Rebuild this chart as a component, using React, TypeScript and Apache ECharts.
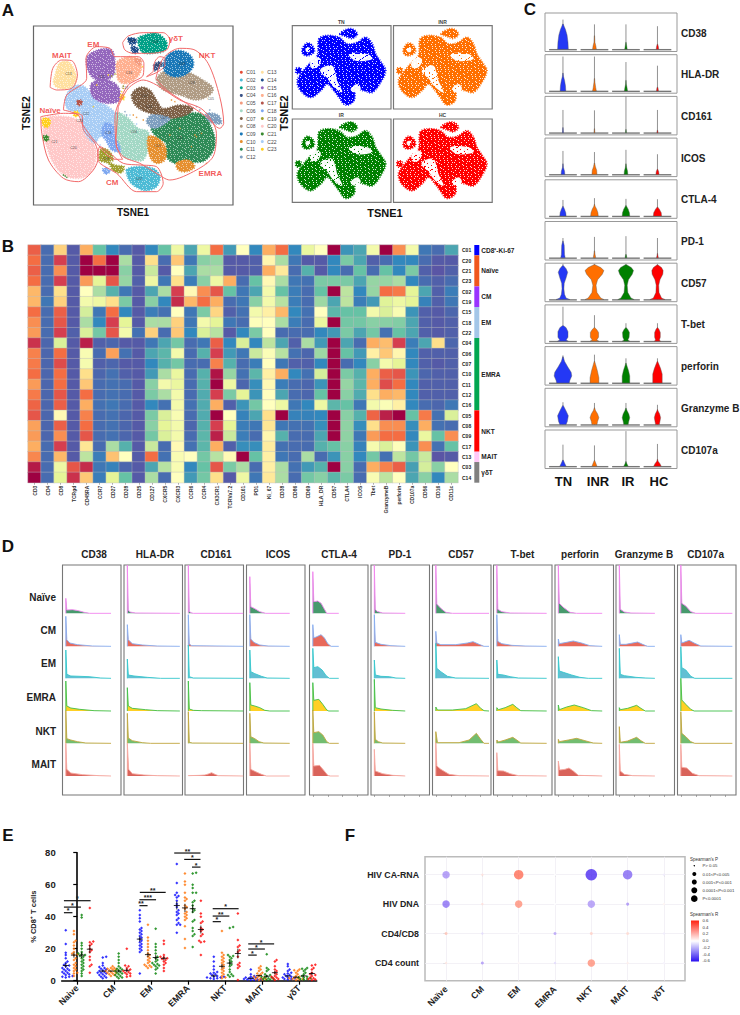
import React, { useEffect, useRef } from "react";
import * as echarts from "echarts";

const FONT = "Liberation Sans";

// ---------- Panel A ----------
const clusterNames = ["C01","C02","C03","C04","C05","C06","C07","C08","C09","C10","C11","C12","C13","C14","C15","C16","C17","C18","C19","C20","C21","C22","C23"];
const clusterColors = ["#e64b35","#4dbbd5","#00a087","#3c5488","#f39b7f","#a3d8c5","#7e6148","#b09c85","#1a78b8","#e69030","#2e8b57","#7f9fbf","#ffe0a0","#1f4e8c","#9467bd","#ffb090","#b5544a","#7fa8f0","#a0a030","#ffc8c8","#3a8a30","#a8cdf5","#ffd020"];
// outline of each cluster's cloud on the tSNE plane
const clusterRegions: Record<string, number[][][]> = {
  C20: [[[135,355],[200,350],[240,365],[250,395],[285,440],[285,490],[265,525],[230,535],[190,525],[160,490],[140,440],[130,400]]],
  C22: [[[195,300],[215,262],[250,258],[290,300],[325,320],[345,340],[345,370],[320,370],[330,420],[300,410],[285,430],[255,400],[242,350],[235,335],[205,330]]],
  C06: [[[350,340],[380,350],[415,385],[445,395],[445,440],[430,480],[400,480],[365,465],[350,420]]],
  C11: [[[455,385],[510,360],[560,340],[610,345],[640,395],[645,440],[615,482],[570,487],[525,490],[500,470],[498,430],[470,410]]],
  C08: [[[470,240],[490,215],[520,215],[560,215],[610,240],[640,265],[630,285],[590,300],[540,285],[490,270]]],
  C07: [[[395,285],[420,262],[450,270],[470,300],[490,325],[540,315],[580,325],[560,345],[500,355],[450,340],[410,320]]],
  C12: [[[455,345],[510,355],[490,375],[460,385],[440,365]],[[620,340],[655,345],[665,370],[640,370],[620,355]]],
  C10: [[[445,410],[475,415],[498,445],[495,480],[470,490],[450,470]],[[530,490],[565,480],[585,500],[560,515],[535,510]]],
  C18: [[[315,370],[340,375],[345,410],[360,440],[360,455],[335,450],[320,425],[305,400]],[[308,507],[322,505],[330,515],[316,522]]],
  C15: [[[262,170],[300,148],[335,150],[345,185],[340,225],[310,245],[280,235],[262,205]],[[275,250],[320,240],[355,260],[358,300],[335,310],[300,305],[275,285]]],
  C13: [[[165,225],[178,190],[205,185],[225,215],[228,245],[205,265],[170,262],[160,245]]],
  C16: [[[352,185],[385,170],[415,178],[425,200],[415,228],[385,250],[358,245],[350,215]]],
  C19: [[[298,465],[305,445],[330,455],[340,480],[330,485],[345,495],[372,500],[365,518],[340,512],[325,490],[300,482]]],
  C02: [[[380,510],[410,500],[460,505],[480,530],[470,560],[440,572],[415,565],[390,545]]],
  C09: [[[490,190],[510,160],[545,152],[575,170],[580,200],[555,225],[520,230],[495,215]]],
  C03: [[[415,115],[435,105],[470,100],[500,125],[497,150],[460,160],[425,155]]],
  C14: [[[385,115],[408,117],[408,130],[390,132]],[[395,138],[413,145],[413,158],[398,158]]],
  C04: [[[462,195],[478,185],[488,190],[478,205],[465,212]]],
  C05: [[[405,175],[425,180],[420,195],[408,190]]],
  C17: [[[232,302],[245,302],[243,315],[233,315]]],
  C21: [[[130,408],[143,408],[145,420],[132,422]]],
  C23: [[[128,355],[148,358],[150,372],[142,382],[130,378],[125,365]],[[222,335],[234,335],[234,348],[222,348]],[[362,285],[372,285],[372,298],[362,298]]],
};
const clusterStrays: Record<string, number[][]> = {
  C10: [[400,345],[410,352],[515,300],[525,305],[590,410],[585,405],[510,405],[620,490],[430,360],[540,385],[575,440],[605,400]],
  C23: [[325,225],[280,320],[370,265],[365,275],[290,255],[428,200]],
  C19: [[335,228],[345,222],[370,258]],
  C12: [[350,340],[630,330],[600,330],[590,320],[380,345],[375,335]],
  C22: [[410,372],[390,345],[300,435],[320,510]],
  C21: [[195,528],[200,532],[190,525]],
};
const clusterTags: [string, number, number][] = [["C13",205,222],["C15",305,232],["C16",387,220],["C09",547,193],["C08",575,250],["C07",433,287],["C06",402,395],["C05",633,297],["C10",473,437],["C11",540,413],["C12",490,353],["C20",220,445],["C21",163,427],["C22",258,343],["C18",325,400],["C02",418,538],["C19",318,478],["C17",375,263],["C03",465,127],["C14",397,122],["C04",478,194],["C01",447,322],["C23",238,362]];
const gateOutlines: number[][][] = [
  [[150,262],[158,205],[185,180],[215,182],[232,225],[215,265],[170,270],[150,262]],
  [[190,330],[200,285],[260,235],[258,175],[290,140],[330,145],[345,170],[415,170],[432,190],[430,225],[385,255],[360,300],[345,350],[350,440],[368,478],[345,478],[290,430],[245,370],[235,345],[190,330]],
  [[368,128],[385,108],[430,98],[490,98],[510,120],[500,150],[450,160],[400,160],[375,150],[368,128]],
  [[460,215],[465,185],[480,170],[495,175],[495,195],[475,215],[440,230],[460,215]],
  [[468,235],[490,175],[540,145],[580,148],[625,190],[660,290],[672,370],[660,385],[620,350],[560,310],[500,270],[468,235]],
  [[355,320],[385,265],[430,240],[470,255],[540,300],[610,330],[650,400],[640,470],[590,510],[510,540],[470,520],[420,490],[370,470],[348,430],[355,320]],
  [[292,470],[300,440],[330,460],[370,490],[420,495],[470,500],[490,550],[470,575],[410,575],[350,520],[300,490],[292,470]],
  [[122,350],[190,340],[245,345],[250,390],[285,430],[295,470],[280,510],[235,545],[190,535],[145,480],[125,400],[122,350]],
];
const gateNames: [string, number, number][] = [["MAIT",185,167],["EM",280,132],["γδT",528,115],["NKT",622,167],["Naïve",150,330],["EMRA",632,520],["CM",337,548]];
const cohortRegions = [
  [[143,25],[160,12],[180,10],[195,25],[180,38],[160,32]],
  [[30,70],[45,52],[62,62],[65,80],[45,90],[32,85]],
  [[12,128],[25,128],[25,142],[12,142]],
  [[80,40],[100,30],[140,35],[165,55],[195,50],[220,35],[240,55],[250,85],[270,115],[280,135],[265,170],[240,200],[215,195],[190,190],[185,225],[160,238],[140,215],[125,195],[105,175],[85,195],[55,215],[25,195],[15,165],[30,140],[55,110],[75,90]],
];
const cohortGaps = [
  [[100,145],[125,135],[135,165],[150,200],[125,185],[110,165]],
  [[60,95],[85,100],[75,125],[55,125]],
  [[170,85],[225,85],[240,100],[190,105]],
  [[40,68],[52,66],[52,78],[42,78]],
  [[175,190],[195,175],[205,190],[185,200]],
  [[85,130],[120,120],[125,150],[95,150]],
];
const cohorts = ["TN","INR","IR","HC"];
const cohortColors = ["#0000ff","#ff6f00","#008000","#ff0000"];

// ---------- Panel B ----------
const heatCols = ["CD3","CD4","CD8","TCRgd","CD45RA","CCR7","CD27","CD28","CD25","CD127","CXCR5","CXCR3","CCR6","CCR4","CX3CR1","TCRVa7.2","CD161","PD1","Ki_67","CD38","CD86","CD69","HLA_DR","CD57","CTLA4","ICOS","Tbet","GranzymeB","perforin","CD107a","CD56","CD16","CD11c"];
const heatRows = ["C01","C20","C21","C23","C02","C19","C15","C18","C22","C04","C06","C07","C10","C11","C12","C16","C05","C08","C09","C17","C13","C03","C14"];
const heatValues = [
  [8.3,.5,6.3,.2,7,2,1,.5,.2,1,2,4.3,1.5,4.3,8,1.3,5,1,7,8,1,4.2,5,10,1.2,1.5,4.5,10,7.5,4.5,.7,.5,1.5],
  [8,.5,9,.2,10,8,10,3,.2,6,.5,6.5,.7,2.5,2.7,.2,.2,.3,5.3,3,.7,.2,.2,1,2.3,1.5,.3,.5,1,1,.5,.2,.2],
  [8.3,.5,7.5,.2,10,10,10,2.5,.2,3.5,.2,5,1.5,3,3,.2,.2,.3,7,5.7,.5,1.7,.2,1,.5,2,.5,2,1,2.3,.3,.1,.3],
  [8,.5,9,.2,7.3,4,8.5,2.7,.3,4.3,.7,6,.8,2.5,4.3,7,.5,2,5.2,3,.7,.6,2.3,2.3,2.3,1.5,2.7,2.7,3,1,.5,.3,.5],
  [6.8,.5,6,.2,5,3,1.7,.7,.2,1.5,3,9,5.2,7.5,8.5,2,.7,1.5,4.5,2,.8,.5,2,10,3.3,1,2.7,8,7.8,4,1.5,.3,.8],
  [6.8,.7,6.3,.2,4.5,4.3,6,2.3,.2,2.5,1,9.3,6.8,8,7,.5,.7,2.5,4.5,3.2,.8,.5,2.8,1.5,3.3,.8,1.3,3.9,4.3,4,.9,.3,.7],
  [8,.5,8.3,.2,3.7,.7,8,1,.2,.8,.6,5,.7,2.3,6.2,.3,.6,4.5,5.5,6.8,1,.6,5,1.8,2,2,4.5,3.8,4.7,1.2,.3,.2,.4],
  [7.5,.5,8.5,.2,3,1,9,4,.2,3,3,6.3,.7,4.5,4,.7,.5,4.9,5,3,.8,.5,4.2,10,2.2,2.2,2.5,2.5,2.4,1.5,.3,.2,.3],
  [7.3,.5,9,.3,3.8,2.2,8.5,4.5,.6,6.3,.5,6.5,1,3.8,3.2,.2,1,2.3,5,.5,.5,.5,1,1.3,2.3,1.5,2.2,.6,2,1.5,.3,.2,.3],
  [9.2,.4,3.8,.2,9.5,.3,.4,.2,.2,.7,1.5,2.2,.5,.7,8.3,1,3.8,1,3.3,1.5,.3,3,1.3,10,1.5,.5,7,6.7,9,.8,1.5,6,.4],
  [7.7,.4,8,.2,4.7,.5,7.2,.6,.2,1.5,1.8,4.5,.5,1.7,9,1.3,.7,3.5,4.8,3.2,.6,.4,2.8,10,2,1.3,5.5,6.5,5.3,1,.3,.3,.3],
  [7.8,.4,8.7,.2,4.6,.3,.4,.2,.2,1,1.7,2.2,.5,.5,7.7,1.7,.5,.8,5,.7,.3,.3,1,10,.5,1,2.5,4.5,4,1,.3,.2,.3],
  [8,.4,8,.2,6,.4,.6,.3,.2,1.3,3,4.2,.5,1.7,9.7,2.7,.6,1.8,5.5,7,1,.6,3.7,10,2.3,1.7,7,8.3,8.5,1.2,.4,.3,.3],
  [7.3,.4,8,.2,6.5,.5,.6,.5,.2,2.5,4.5,4.2,.5,1.7,10,4.3,.4,1.1,5.2,.8,.5,.4,1.2,10,2.7,1.8,7,8.7,8,1,.3,.3,.3],
  [7.8,.4,8.5,.2,8,.5,.6,.5,.2,2.3,3,4.5,.5,1.6,9,2.3,4,1.2,5,1.5,.5,.4,2,10,2.5,1.6,6,7,6.8,1,.3,.3,.3],
  [8.2,.4,8.3,.2,7,.6,.7,.5,.2,1,.6,4.5,.6,1.6,7,.3,1.2,2.2,5,4.3,.7,1,4.3,1.8,2,.7,4.5,4.8,5.5,1,.5,.4,.7],
  [8.5,.4,5.2,.2,7.7,.5,.6,.4,.2,2.3,3.8,4.7,.5,1.6,10,5,.9,1.5,6,10,.9,.9,1,10,2.5,1.7,8.2,9.5,10,2,7.8,.6,3.8],
  [7.2,.4,8.3,.2,8,.5,.6,.4,.2,2.5,4,4.5,.4,1.7,9,4,.8,.7,5.8,.7,.6,.6,1.1,10,2.6,1.1,6,7.5,7.5,1.1,7,.6,.5],
  [7.3,.4,7.5,.2,8.5,.5,.6,.4,.2,2.2,3.8,4.5,.5,1.8,9.5,3.5,.8,.5,5.3,1.7,.5,.5,1.5,10,2.6,.7,7.3,8,8,1,4.2,2,7.5],
  [7,.5,9,.2,5.8,.5,3,1.7,.2,3.5,.5,5.2,.6,1.8,7,.3,1.1,1.1,5.6,.6,.5,.5,1.7,2,2.5,.9,4.6,3.8,4.9,1.2,7.5,.6,2],
  [7.6,.5,6.8,.2,3.3,.8,6.6,5,.2,8,.6,4.7,5,2.2,3.2,5.2,10,2,5.5,.7,.5,3,.5,1.2,2.5,1,2.2,.6,3.3,2.2,3.5,.1,.2],
  [9.6,.5,4.3,8.5,9.3,.7,.9,.4,.2,1.5,3.2,4.7,1,2,8.5,2.3,3,.5,5.5,3,.6,1.3,1.7,10,2.5,.5,7,7.7,8.3,1.4,3.7,2.5,5],
  [10,.5,4,9.2,6.5,.8,4,2,.2,3,.5,5,1.3,2.2,6,.2,4.3,.7,5.7,3,.5,2.2,2.5,1.8,2.3,.5,4.7,3.3,5,1.5,2.5,1,3],
];
const heatGroups = ["CD8⁺-Ki-67","Naïve","CM","EM","EMRA","NKT","MAIT","γδT"];
const heatGroupSizes = [1,3,2,3,7,4,1,2];
const heatGroupColors = ["#0000ff","#f0561e","#9933ff","#a3c6e8","#00a651","#ff0000","#ffc8f8","#808080"];
const spectral = ["#5e4fa2","#3288bd","#66c2a5","#abdda4","#e6f598","#ffffbf","#fee08b","#fdae61","#f46d43","#d53e4f","#9e0142"];

// ---------- Panel C ----------
const markers = ["CD38","HLA-DR","CD161","ICOS","CTLA-4","PD-1","CD57","T-bet","perforin","Granzyme B","CD107a"];
const violinTails = [[.82,.69,.69,.64],[.95,.95,.8,.7],[.63,.62,1,.63],[.65,.62,.68,.56],[.45,.5,.48,.47],[.55,.58,.6,.55],[.98,.98,.98,.98],[.95,.72,.5,.5],[.76,.78,.68,.68],[.62,.6,.6,.55],[.6,.58,.97,.62]];
const violinBodies: number[][][][] = [
  [[[.01,.17],[.2,.16],[.4,.13],[.55,.08],[.65,.03],[.7,.012]],[[.01,.06],[.1,.045],[.2,.015],[.38,.005]],[[.01,.04],[.12,.02],[.2,.006]],[[.01,.04],[.08,.03],[.15,.008]]],
  [[[.01,.09],[.15,.08],[.3,.05],[.4,.02],[.5,.005]],[[.01,.06],[.1,.04],[.25,.015],[.35,.005]],[[.01,.05],[.1,.035],[.2,.01],[.3,.004]],[[.01,.03],[.08,.02],[.12,.005]]],
  [[[.01,.015],[.15,.005]],[[.01,.015],[.12,.005]],[[.01,.015],[.1,.005]],[[.01,.02],[.08,.006]]],
  [[[.01,.06],[.1,.05],[.2,.015],[.3,.005]],[[.01,.08],[.12,.07],[.22,.03],[.32,.005]],[[.01,.06],[.1,.05],[.2,.02],[.3,.005]],[[.01,.05],[.08,.04],[.15,.01]]],
  [[[.01,.1],[.1,.09],[.2,.05],[.28,.005]],[[.01,.12],[.1,.11],[.2,.07],[.28,.02],[.33,.005]],[[.01,.12],[.1,.11],[.2,.07],[.3,.005]],[[.01,.13],[.1,.12],[.2,.06],[.26,.005]]],
  [[[.01,.07],[.1,.05],[.35,.04],[.47,.005]],[[.01,.04],[.1,.02],[.2,.005]],[[.01,.03],[.1,.01]],[[.01,.03],[.08,.012],[.13,.004]]],
  [[[.01,.22],[.05,.1],[.15,.05],[.3,.03],[.45,.04],[.6,.1],[.75,.15],[.85,.1],[.93,.02]],[[.01,.3],[.05,.2],[.2,.08],[.4,.05],[.55,.1],[.7,.25],[.8,.3],[.88,.2],[.96,.02]],[[.01,.26],[.05,.16],[.2,.06],[.4,.04],[.55,.08],[.7,.2],[.8,.24],[.88,.17],[.96,.02]],[[.01,.24],[.05,.13],[.2,.05],[.4,.04],[.55,.08],[.7,.17],[.8,.18],[.88,.13],[.95,.02]]],
  [[[.01,.17],[.04,.1],[.12,.16],[.27,.16],[.38,.1],[.43,.02]],[[.01,.14],[.04,.07],[.12,.13],[.25,.13],[.33,.07],[.38,.01]],[[.01,.12],[.04,.06],[.12,.1],[.25,.11],[.33,.06],[.38,.01]],[[.01,.1],[.04,.06],[.12,.09],[.25,.09],[.33,.05],[.38,.01]]],
  [[[.01,.2],[.08,.22],[.2,.28],[.3,.26],[.45,.15],[.6,.05],[.72,.01]],[[.01,.14],[.15,.14],[.35,.09],[.5,.04],[.6,.006]],[[.01,.12],[.2,.12],[.35,.08],[.48,.03],[.55,.005]],[[.01,.15],[.25,.15],[.4,.1],[.55,.03],[.6,.005]]],
  [[[.01,.1],[.1,.14],[.25,.17],[.38,.1],[.5,.03],[.53,.005]],[[.01,.08],[.1,.1],[.2,.14],[.3,.1],[.4,.03],[.47,.005]],[[.01,.07],[.1,.09],[.2,.12],[.3,.09],[.4,.03],[.46,.005]],[[.01,.06],[.1,.08],[.2,.1],[.3,.07],[.38,.02],[.42,.005]]],
  [[[.01,.1],[.1,.05],[.18,.01]],[[.01,.08],[.1,.04],[.17,.008]],[[.01,.07],[.08,.03],[.14,.005]],[[.01,.12],[.08,.08],[.15,.02],[.2,.005]]],
];

// ---------- Panel D ----------
const memorySets = ["Naïve","CM","EM","EMRA","NKT","MAIT"];
const ridgeBaselines = [5.45,4.46,3.5,2.52,1.55,.57];
const ridgeDensity: number[][][][] = [
  [[[0,.45],[3,.1],[20,.11],[38,.08],[55,.03],[72,0],[136,0]],[[0,.9],[3,.2],[12,.1],[35,.05],[80,.01],[136,0]],[[0,.85],[3,.12],[15,.07],[70,.05],[105,.01],[136,0]],[[0,.9],[3,.15],[15,.09],[42,.05],[85,.01],[136,0]],[[0,.98],[3,.14],[15,.1],[35,.05],[60,.01],[136,0]],[[0,.98],[3,.2],[15,.09],[50,.04],[100,.01],[136,0]]],
  [[[0,1.45],[3,.1],[8,.04],[25,.01],[158,0]],[[0,.65],[3,.2],[15,.08],[45,.04],[90,.01],[158,0]],[[0,.58],[3,.1],[20,.07],[60,.03],[100,0],[158,0]],[[0,.7],[3,.15],[15,.08],[55,.04],[90,.01],[158,0]],[[0,.9],[3,.16],[15,.08],[45,.02],[70,0],[158,0]],[[0,.98],[4,.2],[15,.07],[50,.03],[90,.01],[158,0]]],
  [[[0,1.45],[3,.06],[8,.02],[15,0],[165,0]],[[0,.95],[3,.07],[10,.02],[165,0]],[[0,1],[3,.05],[15,.01],[165,0]],[[0,.9],[3,.06],[15,.02],[40,.01],[165,0]],[[0,.95],[3,.03],[12,.01],[165,0]],[[0,.01],[35,.02],[50,.03],[60,.06],[70,.1],[80,.05],[90,.01],[165,0]]],
  [[[0,1.1],[3,.2],[15,.14],[30,.05],[48,0],[120,0]],[[0,.95],[3,.22],[12,.12],[30,.04],[55,.01],[120,0]],[[0,.85],[3,.2],[15,.14],[35,.06],[52,.01],[120,0]],[[0,.85],[3,.18],[15,.15],[30,.1],[45,.02],[60,0],[120,0]],[[0,.9],[3,.2],[15,.14],[28,.05],[42,.01],[120,0]],[[0,.98],[3,.2],[15,.14],[35,.05],[50,0],[120,0]]],
  [[[0,1.25],[3,.35],[15,.37],[25,.3],[35,.12],[42,0],[78,0]],[[0,.65],[3,.25],[10,.28],[25,.35],[35,.25],[45,.08],[55,0],[78,0]],[[0,.9],[3,.32],[15,.35],[28,.25],[40,.08],[50,0],[78,0]],[[0,.85],[3,.32],[18,.35],[30,.2],[42,.03],[48,0],[78,0]],[[0,1],[3,.32],[18,.35],[30,.25],[42,.05],[50,0],[78,0]],[[0,.98],[3,.3],[20,.32],[32,.18],[45,.02],[52,0],[78,0]]],
  [[[0,1.45],[3,.12],[8,.06],[25,.01],[93,0]],[[0,.95],[3,.12],[20,.06],[50,.02],[93,0]],[[0,.55],[3,.1],[20,.06],[45,.05],[65,.01],[93,0]],[[0,.95],[3,.1],[20,.06],[55,.02],[93,0]],[[0,.95],[3,.12],[12,.05],[25,.01],[93,0]],[[0,.8],[3,.15],[25,.07],[55,.02],[93,0]]],
  [[[0,1.45],[3,.28],[15,.15],[30,.03],[50,0],[160,0]],[[0,.45],[3,.1],[15,.05],[60,.05],[95,.1],[112,.14],[130,.06],[145,0],[160,0]],[[0,1.05],[3,.3],[15,.2],[35,.06],[60,.01],[160,0]],[[0,.12],[5,.03],[50,.03],[90,.07],[122,.22],[135,.08],[145,.01],[160,0]],[[0,.35],[5,.02],[70,.02],[100,.1],[122,.3],[135,.12],[145,0],[160,0]],[[0,1],[3,.3],[15,.2],[40,.05],[70,.01],[160,0]]],
  [[[0,1.45],[3,.12],[15,.05],[40,.01],[150,0]],[[0,.95],[3,.15],[15,.08],[45,.03],[85,.01],[150,0]],[[0,.55],[3,.12],[20,.1],[40,.05],[65,.01],[150,0]],[[0,.1],[5,.04],[25,.1],[48,.2],[60,.1],[72,.01],[150,0]],[[0,.1],[5,.04],[25,.1],[48,.18],[60,.1],[72,.01],[150,0]],[[0,.7],[3,.16],[20,.15],[40,.07],[65,.01],[150,0]]],
  [[[0,1.45],[3,.3],[15,.18],[35,.03],[55,0],[132,0]],[[0,.22],[3,.08],[25,.12],[45,.16],[70,.1],[95,.02],[132,0]],[[0,.65],[3,.22],[15,.18],[40,.1],[65,.03],[90,0],[132,0]],[[0,.18],[3,.04],[25,.12],[48,.18],[75,.1],[100,.01],[132,0]],[[0,.12],[3,.05],[30,.1],[55,.15],[80,.08],[105,.01],[132,0]],[[0,.45],[4,.18],[20,.2],[32,.24],[45,.15],[60,.02],[132,0]]],
  [[[0,1.45],[3,.12],[15,.04],[35,.01],[107,0]],[[0,.35],[3,.06],[20,.06],[55,.13],[70,.06],[85,0],[107,0]],[[0,.9],[3,.12],[15,.08],[50,.03],[80,.01],[107,0]],[[0,.1],[3,.04],[25,.08],[52,.17],[65,.08],[78,0],[107,0]],[[0,.5],[3,.03],[25,.07],[52,.18],[65,.08],[78,0],[107,0]],[[0,.95],[3,.15],[15,.05],[40,.01],[107,0]]],
  [[[0,1.45],[3,.3],[15,.22],[30,.05],[45,0],[155,0]],[[0,.35],[3,.1],[25,.18],[40,.1],[60,.01],[155,0]],[[0,.95],[3,.32],[15,.25],[30,.06],[42,0],[155,0]],[[0,.98],[3,.33],[15,.2],[30,.05],[40,0],[155,0]],[[0,.95],[3,.3],[15,.2],[30,.05],[42,0],[155,0]],[[0,.95],[3,.26],[18,.24],[35,.08],[55,.01],[155,0]]],
];
const ridgeFill = ["#479a6d","#e8695a","#62bfd3","#ffd024","#72bd70","#d9635a"];
const ridgeLine = ["#f285ee","#86aef2","#34c6cc","#3fc04a","#c2a63e","#f6a8a0"];

// ---------- Panel E ----------
const subsets = ["Naive","CM","EM","EMRA","NKT","MAIT","γδT"];
const subsetValues: number[][][] = [
  [[31.5,23,17.5,16,14,12,11,10,9.5,9,8,7.5,7,6.5,6,5.5,5,4.5,4,3.5,3,2.5,2.5,2],[31,29,25,24,22,20,18,17,16.5,16,14,13,11,10,9,8,7,6,5,4.5,3],[41,39.5,23.5,22,20,18,17,16.5,16,15.5,15,14,13,12,11,10,9,8,7,6,4.5,3],[45.5,24.5,24,23,22,20,19,18,15,13,10,9,5]],
  [[15,14.5,11,9.5,8.5,8,7.5,7,6.5,6,5.5,5,5,4.5,4,3.5,3,2.5,2,1.5],[9,8,8,7.5,7,7,6.5,6,6,5.5,5,5,4.5,4,3.5,3],[17,15,13,11,9,8,7.5,7,6.5,6,5.5,5,4.5,4,3.5,3,2.5,2,1.5],[20,9.5,9,8,7,6.5,6,5.5,5,4.5,4,3,2.5]],
  [[44,41,39,37,33,32,31,30,29,28,27,26,25,24,23,22,21,20,19,18,4.5],[35,27,25,23,21,19,17,16,15,14,13,12,11,10,9.5,9,8.5,8],[32.5,23,21,19,17,15,14,13,12,11,10.5,10,9.5,9,8,7,4.5],[25,23,16,15,14.5,14,13.5,13,12,11,10,8,6]],
  [[73,61,55,53.5,53,52,50,48,46,44,43,42,41,39,38,36,35,35,30],[67,62,60,55,52,51,50,47,46,45,43,42,41,40,39,38,34,26,20.5],[67.5,67,60,58,55,55,50,49,47,45,44,43,38,37,33,31,29,28,21],[50,42,40,37,36,33,32,31,29,28,25,24.5,24,16]],
  [[15,12,9,7,5.5,5,4.5,4,3.5,3,2.5,2.5,2,2,1.5,1.5,1],[31,17.5,16,15,14,13,12,11,10,9,8,7,6,5,4,3,2,1.5],[33.5,33,16,15.5,15,14,13,12,11,10,9,7,5.5,4,3.5,3,2.5],[42,25.5,22,21,19,18,15,11,10,9,8,.5]],
  [[7,4,3,2.5,2,2,1.5,1.5,1,1,1,.8,.7,.5,.5],[9,8,7,6,5,4.5,4,3,2.5,2,2,1.5,1,1,.7,.5],[16.5,8,7,6,4,3.5,3,2.5,2,2,1.5,1,1,.7,.5],[13,12,9,7,6,5,4,3,2.5,2,1.5,1,.5]],
  [[10.5,9,7,6,5,4.5,4,3.5,3,2.5,2,2,1.5,1,1,.7],[7,6.5,6,5,4,3,2.5,2,1.5,1.5,1,1,.7,.5],[8,7.5,7,6,5,4,3,2.5,2,2,1.5,1,1,.7],[10,9.5,8,7,5,4,3.5,3,2,1.5,1,.8,.5]],
];
const subsetMeans = [[9.5,16,16,19.7],[6,6,6,6.5],[26,16.3,14.5,14],[47,45.5,45,32],[3,9,11,17],[1.5,3.2,2.8,5],[3,2.2,3,4.5]];
const subsetSems = [[1.5,1.6,1.8,2.6],[.7,.4,.8,1.2],[1.6,1.5,1.5,1.3],[2.5,2.6,2.6,2.5],[.9,1.4,1.6,3],[.4,.6,.8,1.1],[.6,.6,.6,1]];
const sigBars: [number, number, number, string, number][] = [[-.36,-.13,42.5,"*",-.245],[-.36,.1,46,"*",-.13],[-.36,.36,50,"*",0],[1.68,1.9,46.9,"**",1.72],[1.68,2.13,50.6,"***",1.91],[1.69,2.39,55.2,"**",2.04],[2.62,3.33,79.8,"**",2.98],[2.89,3.33,75.8,"*",3.11],[3.1,3.33,71,"*",3.21],[3.66,3.88,36.9,"*",3.77],[3.66,4.11,40.4,"**",3.88],[3.66,4.36,45,"*",4.01],[4.62,4.85,16,"*",4.73],[4.62,5.07,19.8,"*",4.84],[4.62,5.32,23,"*",4.97]];

// ---------- Panel F ----------
const corrRows = ["HIV CA-RNA","HIV DNA","CD4/CD8","CD4 count"];
const corrCols = ["Naïve","CM","EM","EMRA","NKT","MAIT","γδT"];
const corrR = [[-.3,.1,.45,0,-.55,-.4,-.05],[-.38,.1,.35,0,-.28,-.3,.03],[.2,-.1,0,-.25,.15,.12,-.05],[.08,-.28,.02,-.1,.35,.05,-.03]];
const corrP = [[3,0,4,0,5,4,0],[3,0,3,0,3,1,0],[1,0,0,1,1,1,0],[0,1,0,0,3,0,0]];
const pLevels = ["P> 0.05","0.01<P<0.005","0.001<P<0.001","0.0001<P<0.001","P<0.0001"];
const rTicks = ["0.6","0.4","0.2","0.0","-0.2","-0.4","-0.6"];

// a small tiled texture that gives the filled clouds a dotted look
const speckTile = (alpha: number, dots: number, size: number) => {
  const s = 53;
  const c = document.createElement("canvas");
  c.width = c.height = s;
  const ctx = c.getContext("2d")!;
  ctx.fillStyle = `rgba(255,255,255,${alpha})`;
  for (let i = 0; i < dots; i++) {
    const x = Math.floor(((0.5 + i * 0.7548776662) % 1) * s), y = Math.floor(((0.5 + i * 0.5698402910) % 1) * s);
    ctx.fillRect(x, y, size, size);
  }
  return { image: c.toDataURL(), repeat: "repeat", imageWidth: s, imageHeight: s };
};

export default function App() {
  const ref = useRef<HTMLDivElement>(null);
  useEffect(() => {
    const chart = echarts.init(ref.current!, undefined, { renderer: "svg" });
    const grid: any[] = [], xAxis: any[] = [], yAxis: any[] = [], series: any[] = [], graphic: any[] = [];
    const hidden = { show: false };
    const addGrid = (l: number, t: number, w: number, h: number, x: any, y: any, frame?: any) => {
      grid.push({ left: l, top: t, width: w, height: h, show: !!frame, borderColor: frame?.color, borderWidth: frame?.width, backgroundColor: "transparent" });
      const i = grid.length - 1;
      xAxis.push({ gridIndex: i, ...x });
      yAxis.push({ gridIndex: i, ...y });
      return i;
    };
    const txt = (x: number, y: number, text: string, fontSize: number, o: any = {}) => {
      const { rotation, fontWeight = "bold", fill = "#111", align = "center", fontFamily = FONT } = o;
      graphic.push({ type: "text", x, y, rotation, silent: true, style: { text, fontSize, fontWeight, fill, align, verticalAlign: "middle", fontFamily } });
    };

    [["A",8,10],["B",8,246],["C",530,9],["D",8,546],["E",8,835],["F",350,835]].forEach(([t,x,y]) => txt(x as number, y as number, t as string, 17));

    // A main map
    const speckA = speckTile(0.55, 420, 1), speckB = speckTile(0.85, 320, 1), speckGap = speckTile(0.95, 900, 2);
    const gA = addGrid(33.5, 26, 199.5, 179, { type: "value", min: 100, max: 700, show: false }, { type: "value", min: 78, max: 615, inverse: true, show: false }, { color: "#666", width: 1.2 });
    Object.keys(clusterRegions).forEach((k) => {
      const color = clusterColors[clusterNames.indexOf(k)];
      series.push({
        type: "custom", coordinateSystem: "cartesian2d", xAxisIndex: gA, yAxisIndex: gA, silent: true,
        data: clusterRegions[k].map((_, i) => [i, 0]),
        renderItem: (_: any, api: any) => {
          const pts = clusterRegions[k][api.value(0) as number].map((p) => api.coord(p));
          return { type: "group", children: [
            { type: "polygon", shape: { points: pts, smooth: 0.35 }, style: { fill: color, stroke: color, lineWidth: 1.8, lineDash: [1, 1.6] } },
            { type: "polygon", shape: { points: pts, smooth: 0.35 }, style: { fill: speckA } },
          ] };
        },
      });
    });
    Object.keys(clusterStrays).forEach((k) => series.push({ type: "scatter", xAxisIndex: gA, yAxisIndex: gA, silent: true, z: 3, symbolSize: 1.6, data: clusterStrays[k], itemStyle: { color: clusterColors[clusterNames.indexOf(k)] } }));
    gateOutlines.forEach((o) => series.push({ type: "line", xAxisIndex: gA, yAxisIndex: gA, data: o, smooth: 0.3, symbol: "none", lineStyle: { color: "#f26a6a", width: 1 }, silent: true, z: 5 }));
    series.push({ type: "scatter", xAxisIndex: gA, yAxisIndex: gA, data: clusterTags.map((c) => ({ value: [c[1], c[2]], name: c[0] })), symbolSize: 0, silent: true, z: 6, label: { show: true, position: "inside", formatter: "{b}", fontSize: 3.5, color: "#222", fontFamily: FONT } });
    series.push({ type: "scatter", xAxisIndex: gA, yAxisIndex: gA, data: gateNames.map((c) => ({ value: [c[1], c[2]], name: c[0] })), symbolSize: 0, silent: true, z: 6, label: { show: true, position: "inside", formatter: "{b}", fontSize: 8, fontWeight: "bold", color: "#ef3030", fontFamily: FONT } });
    clusterNames.forEach((n, i) => {
      const col = i < 12 ? 0 : 1, row = i < 12 ? i : i - 12;
      const x = col ? 262.3 : 241.3, y = 72.3 + row * 7.7;
      graphic.push({ type: "circle", x, y, silent: true, shape: { r: 1.5 }, style: { fill: clusterColors[i] } });
      txt(x + 5, y, n, 5, { fontWeight: "normal", fill: "#444", align: "left" });
    });
    txt(133, 212, "TSNE1", 10);
    txt(26, 113, "TSNE2", 10.5, { rotation: Math.PI / 2 });
    txt(284, 113, "TSNE2", 11, { rotation: Math.PI / 2 });
    txt(385, 213, "TSNE1", 11);

    // A cohort maps
    const cohortBoxes = [[292.3,25.7],[393.5,25.7],[292.3,119],[393.5,119]];
    cohorts.forEach((c, ci) => {
      const [l, t] = cohortBoxes[ci];
      const g = addGrid(l, t, 98.7, 83.3, { type: "value", min: 0, max: 296, show: false }, { type: "value", min: 0, max: 250, inverse: true, show: false }, { color: "#777", width: 1.2 });
      const color = cohortColors[ci];
      series.push({
        type: "custom", coordinateSystem: "cartesian2d", xAxisIndex: g, yAxisIndex: g, silent: true,
        data: cohortRegions.map((_, i) => [i, 0]),
        renderItem: (_: any, api: any) => {
          const pts = cohortRegions[api.value(0) as number].map((p) => api.coord(p));
          return { type: "group", children: [
            { type: "polygon", shape: { points: pts, smooth: 0.35 }, style: { fill: color, stroke: color, lineWidth: 2, lineDash: [0.9, 1.5] } },
            { type: "polygon", shape: { points: pts, smooth: 0.35 }, style: { fill: speckB } },
          ] };
        },
      });
      series.push({
        type: "custom", coordinateSystem: "cartesian2d", xAxisIndex: g, yAxisIndex: g, silent: true, z: 3,
        data: cohortGaps.map((_, i) => [i, 0]),
        renderItem: (_: any, api: any) => ({ type: "polygon", shape: { points: cohortGaps[api.value(0) as number].map((p) => api.coord(p)), smooth: 0.4 }, style: { fill: speckGap } }),
      });
      txt(l + 49, t - 4, c, 5, { fill: "#444" });
    });

    // B heatmap
    const gB = addGrid(28, 245, 430, 237.7,
      { type: "category", data: heatCols, axisLine: hidden, axisTick: { show: true, length: 2, lineStyle: { color: "#555", width: 0.5 }, alignWithLabel: true }, axisLabel: { interval: 0, rotate: 90, fontSize: 5, fontWeight: "bold", color: "#333", margin: 3, fontFamily: FONT }, splitLine: hidden },
      { type: "category", data: heatRows, inverse: true, position: "right", axisLine: hidden, axisTick: hidden, axisLabel: { interval: 0, fontSize: 5, fontWeight: "bold", color: "#222", margin: 4, fontFamily: FONT }, splitLine: hidden });
    const heatIdx = series.length;
    series.push({ type: "heatmap", xAxisIndex: gB, yAxisIndex: gB, silent: true, data: heatValues.flatMap((r, y) => r.map((v, x) => [x, y, v])), itemStyle: { borderColor: "#bdbdbd", borderWidth: 0.4 } });
    const gBar = addGrid(474.3, 245, 5, 237.7, { type: "category", data: ["g"], show: false }, { type: "value", min: 0, max: 23, inverse: true, show: false });
    heatGroups.forEach((n, i) => series.push({ type: "bar", xAxisIndex: gBar, yAxisIndex: gBar, stack: "g", barWidth: "100%", data: [heatGroupSizes[i]], name: n, silent: true, itemStyle: { color: heatGroupColors[i] }, label: { show: true, position: "right", distance: 2, formatter: "{a}", fontSize: 6.5, fontWeight: "bold", color: "#222", fontFamily: FONT } }));

    // C violins
    markers.forEach((m, mi) => {
      const top = 13 + mi * 41.7;
      const g = addGrid(545, top, 132, 38.5, { type: "value", min: 0, max: 4.19, show: false }, { type: "value", min: -0.05, max: 1, show: false }, { color: "#999", width: 1 });
      series.push({
        type: "custom", coordinateSystem: "cartesian2d", xAxisIndex: g, yAxisIndex: g, silent: true, clip: false,
        data: cohorts.map((_, i) => [i, 0]),
        renderItem: (_: any, api: any) => {
          const c = api.value(0) as number, cx = c + 0.57;
          const body = violinBodies[mi][c];
          const pts = [...body.map(([y, w]) => api.coord([cx + w, y])), ...[...body].reverse().map(([y, w]) => api.coord([cx - w, y]))];
          const b1 = api.coord([cx - 0.44, 0]), b2 = api.coord([cx + 0.44, 0]), t1 = api.coord([cx, violinTails[mi][c]]);
          return { type: "group", children: [
            { type: "line", shape: { x1: b1[0], y1: b1[1], x2: b2[0], y2: b2[1] }, style: { stroke: "#777", lineWidth: 1.4 } },
            { type: "line", shape: { x1: t1[0], y1: t1[1], x2: t1[0], y2: b1[1] }, style: { stroke: "#777", lineWidth: 0.8 } },
            { type: "polygon", shape: { points: pts }, style: { fill: cohortColors[c] === "#0000ff" ? "#2438f5" : cohortColors[c], stroke: "#555", lineWidth: 0.4 } },
          ] };
        },
      });
      txt(681, top + 20, m, 10, { align: "left", fill: "#222" });
    });
    cohorts.forEach((c, i) => txt([563.5, 598, 628, 659][i], 481, c, 13));

    // D ridges
    const panelLeft = [62.5,124,185,246.5,309.5,371,432.5,493.5,555,616,677.5];
    const columnMid = [94,155,216,278,339,400,461,522.5,580,644,705.6];
    markers.forEach((m, mi) => {
      const g = addGrid(panelLeft[mi], 565, 58.5, 230,
        { type: "value", min: -10, max: 166, axisLine: hidden, axisLabel: hidden, splitLine: hidden, axisTick: mi >= 4 ? { show: true, length: 2, customValues: [0, 45, 90, 135], lineStyle: { color: "#777", width: 0.6 } } : hidden },
        { type: "value", min: 0, max: 6.9, show: false }, { color: "#777", width: 1.1 });
      series.push({
        type: "custom", coordinateSystem: "cartesian2d", xAxisIndex: g, yAxisIndex: g, silent: true, clip: true,
        data: memorySets.map((_, i) => [i, 0]),
        renderItem: (_: any, api: any) => {
          const r = api.value(0) as number, base = ridgeBaselines[r], d = ridgeDensity[mi][r];
          const top = d.map(([x, h]) => api.coord([x, base + h]));
          const s = api.coord([d[0][0], base]), e = api.coord([d[d.length - 1][0], base]);
          return { type: "group", children: [
            { type: "polygon", shape: { points: [s, ...top, e] }, style: { fill: ridgeFill[r], stroke: "none" } },
            { type: "polyline", shape: { points: [s, ...top] }, style: { fill: "none", stroke: ridgeLine[r], lineWidth: 0.9 } },
          ] };
        },
      });
      txt(columnMid[mi], 554, m, 10, { fill: "#222" });
    });
    memorySets.forEach((s, i) => txt(56, [597, 630, 663.7, 697.3, 731, 764.3][i], s, 10, { align: "right", fill: "#222" }));

    // E dots
    const gE = addGrid(61.7, 852.7, 255, 128,
      { type: "value", min: -0.42, max: 6.47, splitLine: hidden, axisLine: { lineStyle: { color: "#000", width: 1.6 } }, axisTick: { length: 4, customValues: [0,1,2,3,4,5,6], lineStyle: { color: "#000", width: 1.2 } }, axisLabel: { customValues: [0,1,2,3,4,5,6], formatter: (v: number) => subsets[v], rotate: 45, fontSize: 9, fontWeight: "bold", color: "#222", margin: 6, fontFamily: FONT } },
      { type: "value", min: 0, max: 80, interval: 20, splitLine: hidden, name: "% CD8⁺ T cells", nameLocation: "middle", nameGap: 24, nameTextStyle: { fontSize: 7.5, fontWeight: "bold", color: "#222", fontFamily: FONT }, axisLine: { show: true, lineStyle: { color: "#000", width: 1.6 } }, axisTick: { show: true, length: 4, lineStyle: { color: "#000", width: 1.2 } }, axisLabel: { fontSize: 9.5, fontWeight: "bold", color: "#222", margin: 6, fontFamily: FONT } });
    const cohortOffsets = [-0.31, -0.09, 0.12, 0.34];
    const swarm = (vals: number[], centre: number) => {
      const placed: [number, number][] = [];
      const sep = 2, xpx = 37, ypx = 1.6;
      [...vals].sort((a, b) => a - b).forEach((v) => {
        for (let k = 0; k < 12; k++) {
          const off = (k % 2 ? 1 : -1) * Math.ceil(k / 2) * 1.7;
          if (k === 11 || placed.every(([x, y]) => Math.hypot(x - off, (y - v) * ypx) >= sep)) { placed.push([off, v]); break; }
        }
      });
      return placed.map(([o, v]) => [centre + o / xpx, v]);
    };
    cohorts.forEach((c, ci) => {
      series.push({ type: "scatter", xAxisIndex: gE, yAxisIndex: gE, silent: true, symbol: "diamond", symbolSize: 3, itemStyle: { color: cohortColors[ci] }, data: subsetValues.flatMap((g, gi) => swarm(g[ci], gi + cohortOffsets[ci])) });
    });
    series.push({
      type: "custom", coordinateSystem: "cartesian2d", xAxisIndex: gE, yAxisIndex: gE, silent: true, z: 4,
      data: subsets.flatMap((_, g) => cohorts.map((__, c) => [g + cohortOffsets[c], subsetMeans[g][c], subsetSems[g][c]])),
      renderItem: (_: any, api: any) => {
        const x = api.value(0), m = api.value(1), s = api.value(2);
        const p = api.coord([x, m]), a = api.coord([x, m + s]), b = api.coord([x, m - s]);
        const st = { stroke: "#000", lineWidth: 0.8 };
        return { type: "group", children: [
          { type: "line", shape: { x1: p[0] - 3, y1: p[1], x2: p[0] + 3, y2: p[1] }, style: st },
          { type: "line", shape: { x1: a[0], y1: a[1], x2: b[0], y2: b[1] }, style: st },
        ] };
      },
    });
    series.push({
      type: "custom", coordinateSystem: "cartesian2d", xAxisIndex: gE, yAxisIndex: gE, silent: true, z: 4, clip: false,
      data: sigBars.map((b, i) => [b[0], b[1], b[2], i]),
      renderItem: (_: any, api: any) => {
        const a = api.coord([api.value(0), api.value(2)]), b = api.coord([api.value(1), api.value(2)]);
        const bar = sigBars[api.value(3) as number];
        const c = api.coord([bar[4], bar[2]]);
        return { type: "group", children: [
          { type: "line", shape: { x1: a[0], y1: a[1], x2: b[0], y2: b[1] }, style: { stroke: "#111", lineWidth: 1.2 } },
          { type: "text", x: c[0], y: a[1] - 1.8, style: { text: bar[3], fontSize: 7, fontWeight: "bold", fill: "#222", align: "center", verticalAlign: "middle", fontFamily: FONT } },
        ] };
      },
    });

    // F bubbles
    const rowIdx = corrRows.map((_, i) => i), colIdx = corrCols.map((_, i) => i);
    const gF = addGrid(425, 856.7, 260, 124,
      { type: "value", min: -0.58, max: 6.58, splitLine: hidden, axisLine: hidden, axisTick: { show: true, length: 2, customValues: colIdx, lineStyle: { color: "#aaa" } }, axisLabel: { customValues: colIdx, formatter: (v: number) => corrCols[v], rotate: 45, fontSize: 9, fontWeight: "bold", color: "#222", margin: 7, fontFamily: FONT } },
      { type: "value", min: -0.61, max: 3.6, inverse: true, splitLine: hidden, axisLine: hidden, axisTick: { show: true, length: 3, customValues: rowIdx, lineStyle: { color: "#aaa" } }, axisLabel: { customValues: rowIdx, formatter: (v: number) => corrRows[v], fontSize: 8.8, fontWeight: "bold", color: "#222", margin: 6, fontFamily: FONT } },
      { color: "#bbb", width: 1.5 });
    const bubbleIdx = series.length;
    series.push({
      type: "scatter", xAxisIndex: gF, yAxisIndex: gF, silent: true,
      data: corrR.flatMap((r, y) => r.map((v, x) => [x, y, v, corrP[y][x]])),
      symbolSize: (v: number[]) => [2.4, 3, 5, 7.5, 9.5, 11.5][v[3]],
      markLine: { silent: true, symbol: "none", z: 1, label: { show: false }, lineStyle: { color: "#f0eef4", width: 0.8, type: "solid" }, data: [...colIdx.map((c) => ({ xAxis: c })), ...rowIdx.map((r) => ({ yAxis: r }))] },
    });
    txt(690, 859, "Spearman's P", 4.5, { align: "left", fontWeight: "normal", fill: "#333" });
    pLevels.forEach((p, i) => {
      const y = [865.7, 874, 882, 890.3, 898.7][i];
      graphic.push({ type: "circle", x: 694.3, y, silent: true, shape: { r: [0.7, 2, 2.5, 3, 3.3][i] }, style: { fill: "#000" } });
      txt(702.5, y, p, 4.3, { align: "left", fontWeight: "normal", fill: "#333" });
    });
    txt(690, 914, "Spearman's R", 4.5, { align: "left", fontWeight: "normal", fill: "#333" });
    graphic.push({ type: "rect", x: 691, y: 920.5, silent: true, shape: { width: 8, height: 41 }, style: { fill: new echarts.graphic.LinearGradient(0, 0, 0, 1, [{ offset: 0, color: "#ff2010" }, { offset: 0.5, color: "#ffffff" }, { offset: 1, color: "#2a10f0" }]) } });
    rTicks.forEach((t, i) => txt(702.5, 920.5 + i * 6.7, t, 4.3, { align: "left", fontWeight: "normal", fill: "#333" }));

    chart.setOption({
      animation: false,
      backgroundColor: "#fff",
      textStyle: { fontFamily: FONT },
      grid, xAxis, yAxis, series, graphic,
      visualMap: [
        { type: "continuous", show: false, seriesIndex: heatIdx, dimension: 2, min: 0, max: 10, inRange: { color: spectral } },
        { type: "continuous", show: false, seriesIndex: bubbleIdx, dimension: 2, min: -0.6, max: 0.6, inRange: { color: ["#3a18f0", "#a58cf5", "#ffffff", "#ffa08a", "#ff3a20"] } },
      ],
    });
    return () => chart.dispose();
  }, []);
  return <div ref={ref} style={{ position: "absolute", left: 0, top: 0, width: 740, height: 1015 }} />;
}
